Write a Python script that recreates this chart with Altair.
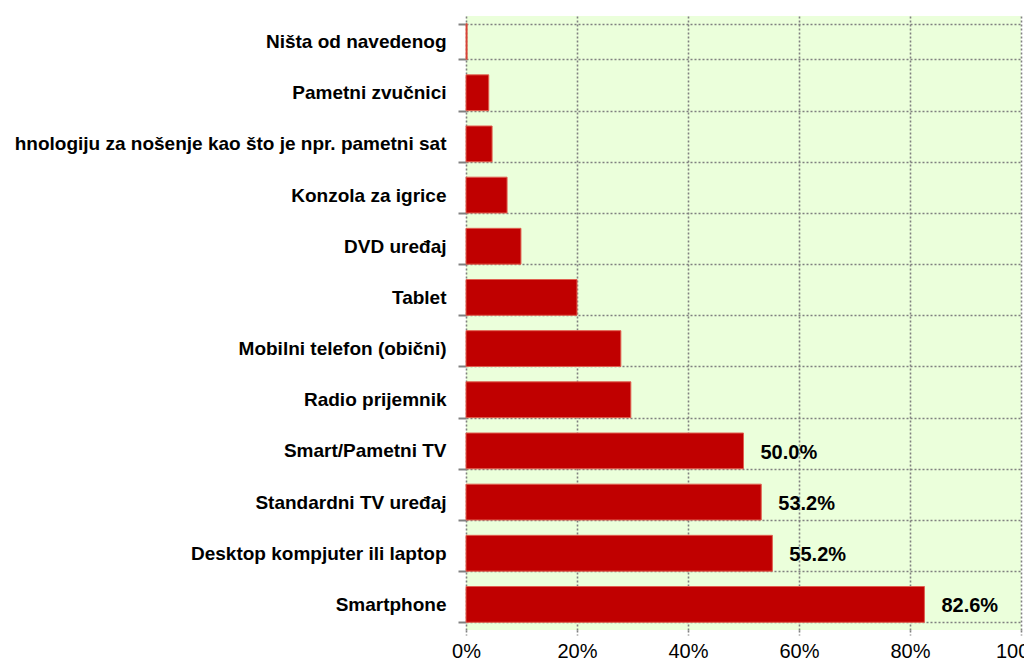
import altair as alt
import pandas as pd

categories = [
    "Ništa od navedenog",
    "Pametni zvučnici",
    "hnologiju za nošenje kao što je npr. pametni sat",
    "Konzola za igrice",
    "DVD uređaj",
    "Tablet",
    "Mobilni telefon (obični)",
    "Radio prijemnik",
    "Smart/Pametni TV",
    "Standardni TV uređaj",
    "Desktop kompjuter ili laptop",
    "Smartphone",
]
values = [0.002, 0.041, 0.047, 0.074, 0.099, 0.200, 0.279, 0.297, 0.500, 0.532, 0.552, 0.826]
x_ticks = [0, 0.2, 0.4, 0.6, 0.8, 1.0]

df = pd.DataFrame({"cat": categories, "value": values})

FONT = "Liberation Sans"

y_enc = alt.Y(
    "cat:N",
    sort=categories,
    title=None,
    scale=alt.Scale(paddingInner=0.3, paddingOuter=0.15),
    axis=alt.Axis(
        tickBand="extent",
        domain=False,
        grid=True,
        gridColor="#808080",
        gridDash=[2, 2],
        gridWidth=1.6,
        ticks=True,
        tickColor="#808080",
        tickWidth=2,
        tickSize=8,
        labelFont=FONT,
        labelFontSize=19,
        labelFontWeight="bold",
        labelColor="#000000",
        labelPadding=12,
        labelLimit=500,
    ),
)

x_enc = alt.X(
    "value:Q",
    title=None,
    scale=alt.Scale(domain=[0, 1], nice=False),
    axis=alt.Axis(
        values=x_ticks,
        format=".0%",
        domain=False,
        grid=True,
        gridColor="#808080",
        gridDash=[2, 2],
        gridWidth=1.6,
        ticks=True,
        tickColor="#808080",
        tickDash=[2, 2],
        tickWidth=1.6,
        tickSize=5,
        labelFont=FONT,
        labelFontSize=20,
        labelColor="#000000",
        labelPadding=6,
        labelFlush=False,
        labelOverlap=False,
    ),
)

bars = alt.Chart(df).mark_bar(
    color="#C00000", stroke="#E06050", strokeWidth=1
).encode(y=y_enc, x=x_enc)

labels = alt.Chart(df).transform_filter("datum.value >= 0.45").mark_text(
    align="left", baseline="middle", dx=17, dy=2,
    font=FONT, fontSize=20, fontWeight="bold", color="#000000"
).encode(
    y=alt.Y("cat:N", sort=categories),
    x=alt.X("value:Q"),
    text=alt.Text("value:Q", format=".1%"),
)

chart = alt.layer(bars, labels).properties(
    width=555,
    height=614,
    background="#ffffff",
    autosize=alt.AutoSizeParams(type="none"),
    padding={"left": 458, "top": 8, "right": 3, "bottom": 31},
).configure_view(
    fill="#EBFFDB", stroke=None
)

chart.save("out.html", embed_options={"renderer": "svg", "actions": False})
